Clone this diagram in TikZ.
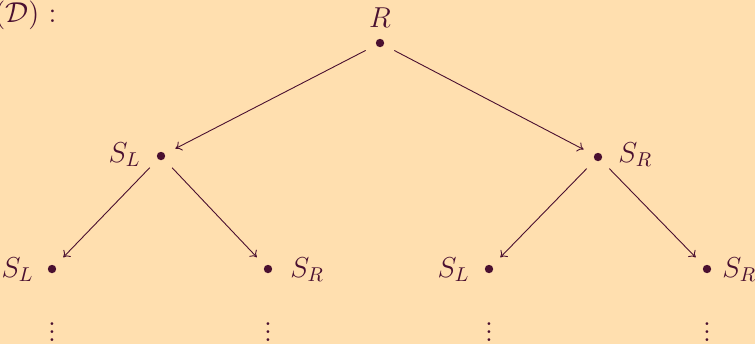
\documentclass[tikz,border=0pt]{standalone}
\usetikzlibrary{arrows.meta}
\definecolor{bg}{HTML}{FFDFAF}
\definecolor{fg}{HTML}{4A1030}
\begin{document}
\begin{tikzpicture}[x=0.5pt,y=-0.5pt,
  every node/.style={text=fg,font=\fontsize{14.5}{17}\selectfont},
  dot/.style={circle,fill=fg,inner sep=0pt,minimum size=4.2pt,outer sep=0pt},
  lbl/.style={inner sep=0pt},
  arr/.style={-{To[length=3pt,width=5pt]},draw=fg,line width=0.45pt,shorten <=6pt,shorten >=6pt}]
\fill[bg] (0,0) rectangle (755,344);
\clip (0,0) rectangle (755,344);
\useasboundingbox (0,0) rectangle (755,344);
\node[lbl,anchor=base east] (title) at (57,22) {$(\mathcal{D})$ :};
% dots
\node[dot] (r) at (380,43) {};
\node[dot] (l) at (161,156) {};
\node[dot] (rr) at (598,157) {};
\node[dot] (ll) at (52,269) {};
\node[dot] (lr) at (268,269) {};
\node[dot] (rl) at (489,269) {};
\node[dot] (rrr) at (707,269) {};
% labels
\node[lbl,anchor=base] (tr) at (380,27) {$R$};
\node[lbl,anchor=base east] (tl) at (141,162) {$S_L$};
\node[lbl,anchor=base west] (trr) at (618,162) {$S_R$};
\node[lbl,anchor=base east] (tll) at (34,277) {$S_L$};
\node[lbl,anchor=base west] (tlr) at (290,277) {$S_R$};
\node[lbl,anchor=base east] (trl) at (470,277) {$S_L$};
\node[lbl,anchor=base west] (trrr) at (722,277) {$S_R$};
% vdots
\foreach \n/\x in {a/52,b/268,c/489,d/707}
  \node[lbl,anchor=base] (v\n) at (\x,341) {$\vdots$};
% edges
\draw[arr] (r) -- (l);
\draw[arr] (r) -- (rr);
\draw[arr] (l) -- (ll);
\draw[arr] (l) -- (lr);
\draw[arr] (rr) -- (rl);
\draw[arr] (rr) -- (rrr);
\end{tikzpicture}
\end{document}
